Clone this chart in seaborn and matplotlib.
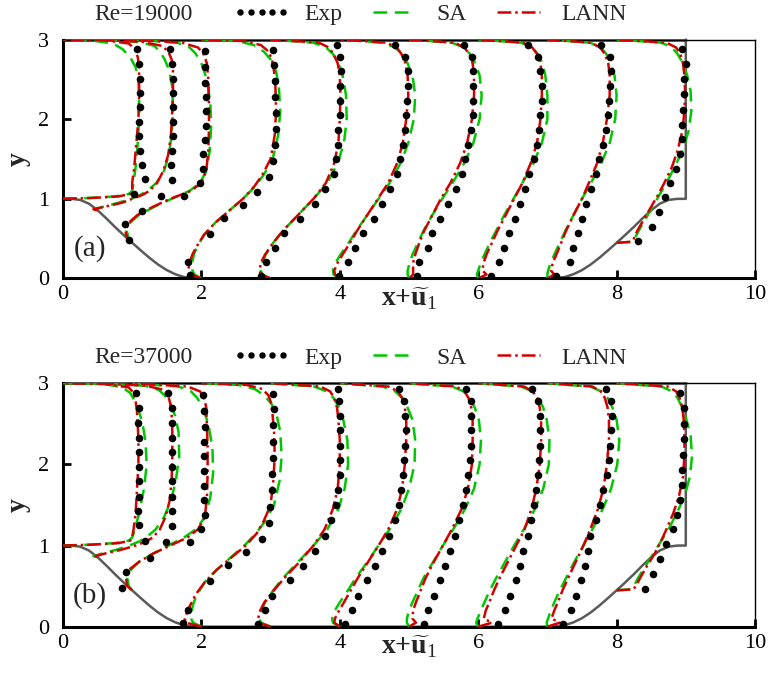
import matplotlib
matplotlib.use("Agg")
import matplotlib.pyplot as plt
from matplotlib.lines import Line2D
import pandas as pd
import seaborn as sns

# ---------------- data ----------------
STATIONS = [0, 0.5, 1, 2, 3, 4, 5, 6, 7, 8]

# wall-normal positions of model profiles (per station)
Y_CREST = [1.0, 1.01, 1.03, 1.06, 1.1, 1.2, 1.4, 1.7, 2.0, 2.3, 2.5, 2.65, 2.78, 2.88, 2.95, 2.99, 3.0]
Y_X05 = [0.857, 0.87, 0.9, 0.95, 1.0, 1.05, 1.1, 1.2, 1.35, 1.55, 1.8, 2.1, 2.4, 2.6, 2.75, 2.85, 2.92, 2.97, 3.0]
Y_X1 = [0.448, 0.5, 0.6, 0.7, 0.8, 0.9, 1.0, 1.1, 1.2, 1.35, 1.6, 1.9, 2.2, 2.5, 2.7, 2.82, 2.9, 2.96, 3.0]
Y_X2 = [0.0, 0.05, 0.1, 0.2, 0.3, 0.4, 0.55, 0.7, 0.85, 1.0, 1.15, 1.3, 1.5, 1.8, 2.1, 2.4, 2.6, 2.75, 2.85, 2.93, 2.98, 3.0]
Y_FLAT = [0.0, 0.05, 0.1, 0.2, 0.3, 0.45, 0.6, 0.8, 1.0, 1.2, 1.45, 1.7, 2.0, 2.3, 2.55, 2.7, 2.82, 2.9, 2.96, 3.0]
Y_X8 = [0.448, 0.46, 0.5, 0.6, 0.75, 0.9, 1.05, 1.2, 1.4, 1.6, 1.85, 2.1, 2.35, 2.55, 2.7, 2.82, 2.9, 2.96, 3.0]
MODEL_Y = [Y_CREST, Y_X05, Y_X1, Y_X2, Y_FLAT, Y_FLAT, Y_FLAT, Y_FLAT, Y_FLAT, Y_X8]

# wall-normal positions of experimental points (per station)
EY0 = [1.06, 1.25, 1.42, 1.6, 1.79, 1.97, 2.15, 2.33, 2.51, 2.69, 2.88]
EY05 = [1.04, 1.24, 1.42, 1.6, 1.79, 1.97, 2.15, 2.33, 2.51, 2.69, 2.88]
EY1 = [0.48, 0.68, 0.85, 1.04, 1.2, 1.38, 1.56, 1.74, 1.92, 2.1, 2.28, 2.46, 2.66, 2.86]
EY2 = [0.05, 0.21, 0.56, 0.76, 0.92, 1.08, 1.28, 1.48, 1.68, 1.88, 2.08, 2.28, 2.48, 2.68, 2.87]
EYF = [0.03, 0.21, 0.38, 0.57, 0.75, 0.93, 1.12, 1.31, 1.5, 1.68, 1.87, 2.05, 2.23, 2.42, 2.6, 2.78, 2.93]
EY8 = [0.47, 0.65, 0.84, 1.02, 1.2, 1.38, 1.56, 1.75, 1.93, 2.12, 2.31, 2.5, 2.69, 2.88]
EXP_Y = [EY0, EY05, EY1, EY2, EYF, EYF, EYF, EYF, EYF, EY8]

# ---- Re = 19000 : streamwise velocity u at each station ----
SA_U_19000 = [
    [0, 0.35, 0.75, 0.95, 1.0, 1.02, 1.05, 1.08, 1.1, 1.1, 1.09, 1.05, 0.97, 0.86, 0.72, 0.4, 0],
    [0, -0.05, 0.08, 0.3, 0.48, 0.62, 0.72, 0.85, 0.96, 1.03, 1.07, 1.09, 1.08, 1.04, 0.97, 0.9, 0.82, 0.6, 0],
    [0, -0.05, -0.08, -0.03, 0.1, 0.32, 0.57, 0.83, 0.98, 1.07, 1.12, 1.14, 1.13, 1.08, 1.0, 0.92, 0.83, 0.65, 0],
    [0, -0.1, -0.13, -0.13, -0.11, -0.06, 0.04, 0.2, 0.4, 0.6, 0.77, 0.9, 1.03, 1.11, 1.14, 1.12, 1.08, 1.0, 0.9, 0.76, 0.52, 0],
    [0, -0.12, -0.14, -0.12, -0.07, 0.04, 0.18, 0.4, 0.62, 0.82, 0.97, 1.06, 1.1, 1.09, 1.04, 0.98, 0.9, 0.8, 0.62, 0],
    [0, -0.09, -0.1, -0.06, 0.01, 0.13, 0.24, 0.4, 0.56, 0.72, 0.88, 0.99, 1.07, 1.09, 1.05, 0.98, 0.9, 0.8, 0.62, 0],
    [0, -0.02, -0.02, 0.01, 0.05, 0.13, 0.21, 0.34, 0.48, 0.63, 0.8, 0.93, 1.02, 1.05, 1.02, 0.96, 0.88, 0.79, 0.62, 0],
    [0, -0.02, 0.0, 0.04, 0.09, 0.17, 0.26, 0.38, 0.51, 0.64, 0.8, 0.92, 1.0, 1.0, 0.97, 0.93, 0.86, 0.78, 0.62, 0],
    [0, 0.0, 0.01, 0.05, 0.1, 0.18, 0.26, 0.38, 0.5, 0.63, 0.78, 0.9, 0.98, 1.0, 0.97, 0.92, 0.85, 0.77, 0.62, 0],
    [0, 0.22, 0.26, 0.32, 0.42, 0.52, 0.62, 0.72, 0.84, 0.95, 1.04, 1.08, 1.07, 1.02, 0.96, 0.88, 0.8, 0.65, 0],
]
LANN_U_19000 = [
    [0, 0.4, 0.8, 0.97, 1.0, 1.0, 1.03, 1.06, 1.09, 1.1, 1.1, 1.1, 1.08, 1.04, 0.95, 0.6, 0],
    [0, -0.06, 0.1, 0.35, 0.5, 0.65, 0.75, 0.86, 0.95, 1.02, 1.06, 1.08, 1.09, 1.09, 1.07, 1.02, 0.93, 0.65, 0],
    [0, -0.07, -0.1, -0.05, 0.08, 0.3, 0.55, 0.85, 1.0, 1.07, 1.1, 1.11, 1.11, 1.1, 1.08, 1.03, 0.95, 0.72, 0],
    [0, -0.14, -0.19, -0.17, -0.13, -0.07, 0.04, 0.2, 0.4, 0.6, 0.76, 0.88, 1.0, 1.06, 1.08, 1.07, 1.05, 1.02, 0.97, 0.86, 0.62, 0],
    [0, -0.14, -0.16, -0.14, -0.08, 0.04, 0.18, 0.4, 0.62, 0.8, 0.92, 0.98, 1.0, 1.01, 1.0, 0.97, 0.91, 0.84, 0.7, 0],
    [0, -0.07, -0.08, -0.03, 0.04, 0.15, 0.25, 0.4, 0.55, 0.7, 0.83, 0.91, 0.96, 0.99, 0.98, 0.95, 0.89, 0.82, 0.68, 0],
    [0, 0.06, 0.06, 0.06, 0.09, 0.15, 0.22, 0.34, 0.46, 0.6, 0.74, 0.84, 0.91, 0.94, 0.94, 0.92, 0.87, 0.8, 0.66, 0],
    [0, 0.12, 0.06, 0.08, 0.12, 0.2, 0.28, 0.4, 0.52, 0.64, 0.76, 0.85, 0.9, 0.92, 0.92, 0.9, 0.85, 0.78, 0.65, 0],
    [0, 0.1, 0.05, 0.08, 0.13, 0.2, 0.27, 0.38, 0.5, 0.6, 0.72, 0.8, 0.86, 0.9, 0.9, 0.88, 0.83, 0.76, 0.63, 0],
    [0, 0.2, 0.25, 0.3, 0.4, 0.5, 0.6, 0.69, 0.8, 0.88, 0.95, 0.98, 0.99, 0.98, 0.96, 0.92, 0.86, 0.72, 0],
]
EXP_U_19000 = [
    [1.03, 1.185, 1.137, 1.11, 1.1, 1.1, 1.11, 1.11, 1.11, 1.1, 1.07],
    [0.91, 1.07, 1.06, 1.08, 1.085, 1.085, 1.09, 1.09, 1.085, 1.08, 1.045],
    [-0.04, -0.1, 0.14, 0.75, 0.98, 1.03, 1.03, 1.05, 1.06, 1.06, 1.06, 1.05, 1.05, 1.05],
    [-0.16, -0.2, 0.12, 0.32, 0.6, 0.8, 0.97, 1.04, 1.07, 1.08, 1.08, 1.07, 1.06, 1.05, 1.03],
    [-0.14, -0.06, 0.06, 0.2, 0.43, 0.64, 0.79, 0.91, 0.95, 0.97, 0.98, 1.0, 1.0, 1.0, 1.02, 1.0, 0.96],
    [-0.01, 0.12, 0.22, 0.34, 0.49, 0.61, 0.73, 0.82, 0.87, 0.92, 0.94, 0.96, 0.97, 0.98, 0.98, 0.94, 0.8],
    [0.12, 0.15, 0.27, 0.33, 0.45, 0.57, 0.68, 0.76, 0.81, 0.86, 0.9, 0.92, 0.92, 0.93, 0.93, 0.91, 0.8],
    [0.18, 0.3, 0.37, 0.45, 0.53, 0.6, 0.67, 0.73, 0.8, 0.85, 0.88, 0.9, 0.92, 0.92, 0.9, 0.87, 0.72],
    [0.12, 0.32, 0.37, 0.44, 0.5, 0.56, 0.63, 0.7, 0.75, 0.8, 0.84, 0.87, 0.89, 0.91, 0.92, 0.9, 0.78],
    [0.31, 0.51, 0.61, 0.7, 0.77, 0.86, 0.92, 0.94, 0.95, 0.96, 0.97, 0.98, 1.0, 0.95],
]

# ---- Re = 37000 ----
SA_U_37000 = [
    [0, 0.35, 0.75, 0.95, 1.0, 1.04, 1.1, 1.17, 1.21, 1.19, 1.15, 1.1, 1.04, 0.97, 0.86, 0.6, 0],
    [0, -0.06, 0.06, 0.28, 0.46, 0.6, 0.7, 0.84, 0.96, 1.06, 1.13, 1.18, 1.17, 1.12, 1.05, 0.97, 0.88, 0.68, 0],
    [0, -0.05, -0.07, -0.02, 0.1, 0.3, 0.52, 0.75, 0.92, 1.05, 1.13, 1.17, 1.16, 1.1, 1.02, 0.94, 0.85, 0.67, 0],
    [0, -0.12, -0.15, -0.14, -0.11, -0.06, 0.05, 0.22, 0.42, 0.62, 0.79, 0.92, 1.05, 1.13, 1.16, 1.14, 1.09, 1.01, 0.91, 0.77, 0.53, 0],
    [0, -0.14, -0.16, -0.13, -0.08, 0.04, 0.18, 0.4, 0.62, 0.82, 0.98, 1.07, 1.12, 1.11, 1.05, 0.99, 0.91, 0.81, 0.63, 0],
    [0, -0.1, -0.11, -0.07, 0.0, 0.12, 0.23, 0.4, 0.56, 0.72, 0.89, 1.0, 1.08, 1.09, 1.05, 0.98, 0.9, 0.8, 0.62, 0],
    [0, -0.03, -0.03, 0.0, 0.05, 0.13, 0.21, 0.35, 0.49, 0.64, 0.81, 0.94, 1.02, 1.04, 1.01, 0.95, 0.88, 0.79, 0.62, 0],
    [0, -0.03, -0.01, 0.04, 0.09, 0.17, 0.26, 0.39, 0.52, 0.66, 0.82, 0.94, 1.02, 1.03, 0.99, 0.94, 0.87, 0.78, 0.62, 0],
    [0, -0.01, 0.01, 0.05, 0.1, 0.18, 0.27, 0.39, 0.52, 0.65, 0.8, 0.92, 1.01, 1.04, 1.0, 0.94, 0.87, 0.78, 0.62, 0],
    [0, 0.2, 0.25, 0.31, 0.42, 0.53, 0.64, 0.75, 0.87, 0.98, 1.06, 1.09, 1.07, 1.01, 0.95, 0.88, 0.8, 0.65, 0],
]
LANN_U_37000 = [
    [0, 0.4, 0.8, 0.97, 1.0, 1.02, 1.05, 1.07, 1.09, 1.09, 1.08, 1.07, 1.05, 1.02, 0.95, 0.6, 0],
    [0, -0.03, 0.1, 0.35, 0.55, 0.7, 0.8, 0.9, 0.98, 1.04, 1.07, 1.08, 1.08, 1.07, 1.05, 1.02, 0.95, 0.7, 0],
    [0, -0.07, -0.09, -0.05, 0.1, 0.3, 0.55, 0.8, 0.95, 1.05, 1.08, 1.09, 1.09, 1.08, 1.07, 1.04, 0.98, 0.8, 0],
    [0, -0.22, -0.24, -0.2, -0.14, -0.08, 0.05, 0.22, 0.43, 0.64, 0.8, 0.9, 1.0, 1.04, 1.06, 1.05, 1.03, 1.01, 0.97, 0.88, 0.65, 0],
    [0, -0.18, -0.18, -0.15, -0.09, 0.05, 0.2, 0.42, 0.62, 0.78, 0.9, 0.97, 1.0, 1.0, 0.98, 0.96, 0.92, 0.86, 0.72, 0],
    [0, -0.08, -0.07, -0.01, 0.06, 0.16, 0.26, 0.41, 0.56, 0.7, 0.83, 0.9, 0.94, 0.96, 0.96, 0.94, 0.9, 0.84, 0.7, 0],
    [0, 0.1, 0.05, 0.06, 0.1, 0.17, 0.24, 0.36, 0.49, 0.62, 0.76, 0.85, 0.91, 0.92, 0.92, 0.9, 0.86, 0.8, 0.68, 0],
    [0, 0.2, 0.08, 0.11, 0.16, 0.23, 0.31, 0.43, 0.55, 0.67, 0.77, 0.84, 0.89, 0.91, 0.91, 0.89, 0.85, 0.79, 0.66, 0],
    [0, 0.18, 0.06, 0.1, 0.15, 0.22, 0.3, 0.41, 0.52, 0.62, 0.73, 0.81, 0.86, 0.89, 0.89, 0.87, 0.83, 0.77, 0.65, 0],
    [0, 0.24, 0.28, 0.34, 0.44, 0.55, 0.64, 0.72, 0.82, 0.9, 0.96, 0.98, 0.98, 0.97, 0.95, 0.91, 0.86, 0.74, 0],
]
EXP_U_37000 = [
    [1.185, 1.1, 1.09, 1.1, 1.1, 1.1, 1.1, 1.1, 1.09, 1.1, 1.06],
    [0.99, 1.07, 1.07, 1.07, 1.07, 1.07, 1.08, 1.07, 1.07, 1.07, 1.02],
    [-0.15, -0.09, 0.26, 0.835, 1.0, 1.05, 1.04, 1.04, 1.04, 1.04, 1.04, 1.05, 1.04, 1.02],
    [-0.26, -0.19, 0.12, 0.39, 0.65, 0.87, 0.97, 0.99, 1.02, 1.02, 1.03, 1.03, 1.04, 1.05, 1.03],
    [-0.18, -0.08, 0.02, 0.28, 0.47, 0.64, 0.79, 0.88, 0.95, 0.98, 1.0, 1.0, 1.0, 1.0, 1.0, 0.99, 0.97],
    [0.08, 0.17, 0.27, 0.39, 0.51, 0.61, 0.71, 0.8, 0.86, 0.89, 0.92, 0.93, 0.94, 0.95, 0.94, 0.93, 0.85],
    [0.21, 0.28, 0.36, 0.45, 0.52, 0.59, 0.66, 0.72, 0.78, 0.83, 0.86, 0.88, 0.9, 0.9, 0.9, 0.89, 0.82],
    [0.29, 0.39, 0.46, 0.55, 0.6, 0.65, 0.72, 0.76, 0.81, 0.84, 0.87, 0.88, 0.89, 0.9, 0.89, 0.87, 0.78],
    [0.23, 0.34, 0.42, 0.49, 0.54, 0.58, 0.62, 0.7, 0.76, 0.81, 0.86, 0.89, 0.91, 0.92, 0.93, 0.92, 0.85],
    [0.41, 0.53, 0.63, 0.72, 0.82, 0.87, 0.91, 0.94, 0.95, 0.96, 0.97, 0.98, 0.98, 0.92],
]

# hill geometry (left hill; right hill is its mirror at x = 9)
HILL_X = [0, 0.125, 0.25, 0.375, 0.5, 0.625, 0.75, 0.875, 1.0, 1.125, 1.25, 1.375, 1.5, 1.625, 1.75, 1.929]
HILL_Y = [1.0, 0.9997, 0.986, 0.939, 0.857, 0.755, 0.648, 0.546, 0.448, 0.352, 0.259, 0.175, 0.105, 0.053, 0.018, 0.0]

PANELS = [("Re=19000", "(a)", SA_U_19000, LANN_U_19000, EXP_U_19000),
          ("Re=37000", "(b)", SA_U_37000, LANN_U_37000, EXP_U_37000)]

# ---------------- style ----------------
sns.set_theme(style="white")
plt.rcParams.update({
    "font.family": ["Liberation Serif", "DejaVu Serif"],
    "mathtext.fontset": "custom",
    "mathtext.rm": "Liberation Serif",
    "mathtext.it": "Liberation Serif:italic",
    "mathtext.bf": "Liberation Serif:bold",
    "lines.scale_dashes": True,
})

GREEN = "#00C800"
RED = "#D40000"
WALL = "#5a5a5a"
LW = 1.8
SA_DASH = (5.5, 3.0)
LANN_DASH = (5.5, 1.6, 1.0, 1.6)


def build_frames(sa, lann, exp):
    rows = []
    for i, s in enumerate(STATIONS):
        for name, U in (("SA", sa), ("LANN", lann)):
            assert len(U[i]) == len(MODEL_Y[i]), (name, i)
            for y, u in zip(MODEL_Y[i], U[i]):
                rows.append({"station": i, "model": name, "y": y, "xu": s + u})
    erows = []
    for i, s in enumerate(STATIONS):
        assert len(exp[i]) == len(EXP_Y[i]), ("Exp", i)
        for y, u in zip(EXP_Y[i], exp[i]):
            erows.append({"station": i, "y": y, "xu": s + u})
    return pd.DataFrame(rows), pd.DataFrame(erows)


fig = plt.figure(figsize=(7.7, 6.73), dpi=100)
axes = [fig.add_axes([0.0818, 0.5862, 0.8987, 0.3551]),
        fig.add_axes([0.0818, 0.0688, 0.8987, 0.3617])]

wall_x = HILL_X + [9 - x for x in reversed(HILL_X)] + [9]
wall_y = HILL_Y + list(reversed(HILL_Y)) + [3.0]

for ax, (re_txt, tag, sa, lann, exp) in zip(axes, PANELS):
    dm, de = build_frames(sa, lann, exp)

    ax.plot(wall_x, wall_y, color=WALL, lw=1.8, zorder=2, clip_on=False)
    ax.plot([0, 9], [3, 3], color=WALL, lw=2.0, zorder=2, clip_on=False)

    sns.lineplot(data=dm, x="xu", y="y", hue="model", style="model",
                 hue_order=["SA", "LANN"], style_order=["SA", "LANN"],
                 units="station", estimator=None, sort=False,
                 palette={"SA": GREEN, "LANN": RED},
                 dashes={"SA": SA_DASH, "LANN": LANN_DASH},
                 linewidth=LW, legend=False, ax=ax, zorder=3)
    sns.scatterplot(data=de, x="xu", y="y", color="black", s=30,
                    linewidth=0, legend=False, ax=ax, zorder=5)

    ax.set_xlim(0, 10)
    ax.set_ylim(0, 3)
    ax.set_xticks([0, 2, 4, 6, 8, 10])
    ax.set_yticks([0, 1, 2, 3])
    ax.tick_params(axis="both", direction="in", length=6, width=2,
                   labelsize=16, colors="black", bottom=True, left=True,
                   top=False, right=False)
    ax.tick_params(axis="x", pad=5)
    ax.tick_params(axis="y", pad=10)
    for side in ("bottom", "left"):
        ax.spines[side].set_linewidth(2.2)
        ax.spines[side].set_color("black")
    for side in ("top", "right"):
        ax.spines[side].set_linewidth(1.0)
        ax.spines[side].set_color("black")

    ax.set_xlabel(r"$\mathbf{x{+}\widetilde{u}}_1$", fontsize=20)
    ax.xaxis.set_label_coords(0.5, -0.03)
    ax.set_ylabel("y", fontsize=20, fontweight="bold")
    ax.yaxis.set_label_coords(-0.047, 0.5)

    ax.text(0.39, 0.38, tag, fontsize=21, ha="center", va="center", zorder=6)
    ax.text(0.046, 1.104, re_txt, transform=ax.transAxes, fontsize=17,
            ha="left", va="center")

    handles = [
        Line2D([], [], ls="none", marker="o", markersize=3.6, color="black"),
        Line2D([], [], color=GREEN, lw=LW, dashes=SA_DASH),
        Line2D([], [], color=RED, lw=LW, dashes=LANN_DASH),
    ]
    ax.legend(handles, ["Exp", "SA", "LANN"], loc="center left",
              bbox_to_anchor=(0.246, 1.104), ncol=3, frameon=False,
              fontsize=17, handlelength=2.4, handletextpad=0.6,
              columnspacing=1.0, numpoints=5, borderpad=0, borderaxespad=0)

fig.savefig("out.png", dpi=100)
